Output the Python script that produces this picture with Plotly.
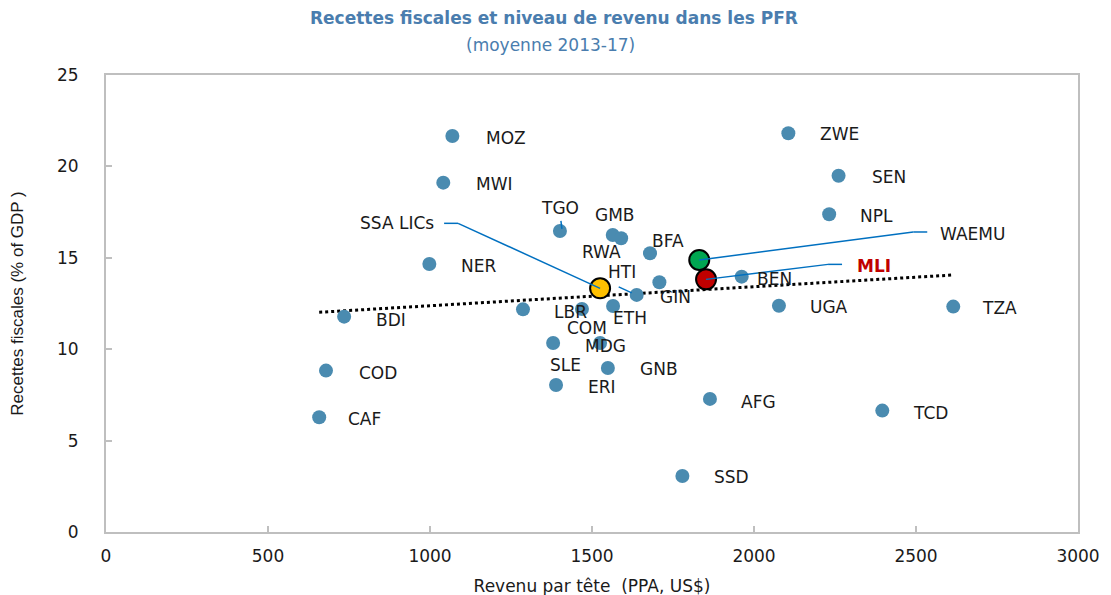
import plotly.graph_objects as go

#%% Data

countries = ['MOZ', 'ZWE', 'MWI', 'SEN', 'NPL', 'TGO', 'GMB', 'RWA', 'BFA', 'NER',
             'GIN', 'HTI', 'BEN', 'BDI', 'LBR', 'COM', 'ETH', 'SLE', 'MDG', 'GNB',
             'ERI', 'COD', 'CAF', 'AFG', 'SSD', 'UGA', 'TZA', 'TCD']
income = [1069, 2106, 1041, 2261, 2232, 1401, 1564, 1590, 1679, 998,
          1708, 1638, 1962, 735, 1287, 1469, 1565, 1380, 1525, 1549,
          1389, 679, 658, 1864, 1779, 2077, 2615, 2396]
tax_rev = [21.66, 21.81, 19.11, 19.49, 17.38, 16.47, 16.25, 16.07, 15.25, 14.66,
           13.66, 12.97, 13.97, 11.78, 12.18, 12.20, 12.36, 10.34, 10.34, 8.97,
           8.04, 8.83, 6.28, 7.28, 3.06, 12.38, 12.33, 6.64]

groups = ['SSA LICs', 'WAEMU', 'MLI']
group_income = [1525, 1831, 1852]
group_tax = [13.33, 14.88, 13.82]
group_colors = ['#FFC000', '#00A651', '#C00000']

# linear trend as drawn in the source chart (end points)
trend_income = [658, 2615]
trend_tax = [12.02, 14.06]

#%% Label placement: pixel offsets from the point (dx right, dy down), anchor
label_pos = {
    'MOZ': (32, 2, 'left'), 'ZWE': (30, 1, 'left'), 'MWI': (31, 1, 'left'),
    'SEN': (31, 1, 'left'), 'NPL': (29, 2, 'left'), 'TGO': (0, -23, 'center'),
    'GMB': (2, -20, 'center'), 'RWA': (-20, 14, 'center'), 'BFA': (0, -12, 'left'),
    'NER': (30, 2, 'left'), 'GIN': (-1, 15, 'left'), 'HTI': (-15, -23, 'center'),
    'BEN': (13, 2, 'left'), 'BDI': (30, 3, 'left'), 'LBR': (29, 3, 'left'),
    'COM': (5, 19, 'center'), 'ETH': (-2, 12, 'left'), 'SLE': (12, 22, 'center'),
    'MDG': (-17, 3, 'left'), 'GNB': (30, 1, 'left'), 'ERI': (30, 2, 'left'),
    'COD': (31, 2, 'left'), 'CAF': (27, 2, 'left'), 'AFG': (29, 3, 'left'),
    'SSD': (30, 1, 'left'), 'UGA': (29, 1, 'left'), 'TZA': (27, 1, 'left'),
    'TCD': (29, 2, 'left'),
    'SSA LICs': (-164, -65, 'right'), 'WAEMU': (239, -26, 'left'),
    'MLI': (149, -13, 'left'),
}

# leader lines: pixel points relative to the point (dx right, dy down)
leaders = {
    'SSA LICs': [(0, 0), (-142, -65), (-156, -65)],
    'WAEMU': [(0, 0), (214, -28), (228, -28)],
    'MLI': [(0, 0), (122, -15), (136, -15)],
    'HTI': [(-5, -2), (-18, -8)],
    'TGO': [(2, -2), (1, -10)],
}

#%% Figure

font_family = 'DejaVu Sans'
dot_color = '#4A8BB0'
leader_color = '#0070C0'
title_color = '#4A7DAE'

fig = go.Figure()

fig.add_trace(go.Scatter(
    x=trend_income, y=trend_tax, mode='lines',
    line=dict(color='black', width=3, dash='dot'),
    hoverinfo='skip', showlegend=False,
))

fig.add_trace(go.Scatter(
    x=income, y=tax_rev, mode='markers', text=countries,
    marker=dict(size=14, color=dot_color),
    showlegend=False,
))

fig.add_trace(go.Scatter(
    x=group_income, y=group_tax, mode='markers', text=groups,
    marker=dict(size=20, color=group_colors, line=dict(color='black', width=2)),
    showlegend=False,
))

all_names = countries + groups
all_x = income + group_income
all_y = tax_rev + group_tax

annotations = []
for name, xv, yv in zip(all_names, all_x, all_y):
    dx, dy, anchor = label_pos[name]
    is_mli = name == 'MLI'
    annotations.append(dict(
        x=xv, y=yv, xref='x', yref='y', text='<b>MLI</b>' if is_mli else name,
        showarrow=False, xanchor=anchor, yanchor='middle',
        xshift=dx, yshift=-dy,
        font=dict(family=font_family, size=17,
                  color='#C00000' if is_mli else '#1A1A1A'),
    ))

annotations.append(dict(
    x=0.461, y=1, xref='paper', yref='paper', yshift=57, yanchor='middle',
    text='<b>Recettes fiscales et niveau de revenu dans les PFR</b>',
    showarrow=False, font=dict(family=font_family, size=17, color=title_color),
))
annotations.append(dict(
    x=0.457, y=1, xref='paper', yref='paper', yshift=30, yanchor='middle',
    text='(moyenne 2013-17)', showarrow=False,
    font=dict(family=font_family, size=17, color=title_color),
))

shapes = []
pt = dict(zip(all_names, zip(all_x, all_y)))
for name, pts in leaders.items():
    xv, yv = pt[name]
    for (ax0, ay0), (ax1, ay1) in zip(pts[:-1], pts[1:]):
        shapes.append(dict(
            type='line', xref='x', yref='y',
            xsizemode='pixel', ysizemode='pixel', xanchor=xv, yanchor=yv,
            x0=ax0, y0=-ay0, x1=ax1, y1=-ay1,
            line=dict(color=leader_color, width=1.5),
        ))

axis_style = dict(
    showline=True, linecolor='#BFBFBF', linewidth=2, mirror=True,
    ticks='inside', tickcolor='#BFBFBF', ticklen=6, tickwidth=1.5,
    showgrid=False, zeroline=False,
    tickfont=dict(family=font_family, size=17, color='#1A1A1A'),
)

fig.update_xaxes(range=[0, 3000], dtick=500, tick0=0,
                 title=dict(text='Revenu par tête  (PPA, US$)', standoff=15,
                            font=dict(family=font_family, size=17, color='#1A1A1A')),
                 ticklabelstandoff=8, **axis_style)
fig.update_yaxes(range=[0, 25], dtick=5, tick0=0,
                 title=dict(text='Recettes fiscales (% of GDP )', standoff=30,
                            font=dict(family='Liberation Sans Narrow, Liberation Sans', size=17,
                                      color='#1A1A1A')),
                 ticklabelstandoff=22, **axis_style)

# the page body adds an 8px offset, so margins are trimmed to land the plot
# area where the reference has it
fig.update_layout(
    width=1111, height=595,
    margin=dict(l=98, r=41, t=67, b=71, autoexpand=False),
    plot_bgcolor='white', paper_bgcolor='white',
    annotations=annotations, shapes=shapes,
    hovermode='closest',
)

fig.write_html('out.html')
